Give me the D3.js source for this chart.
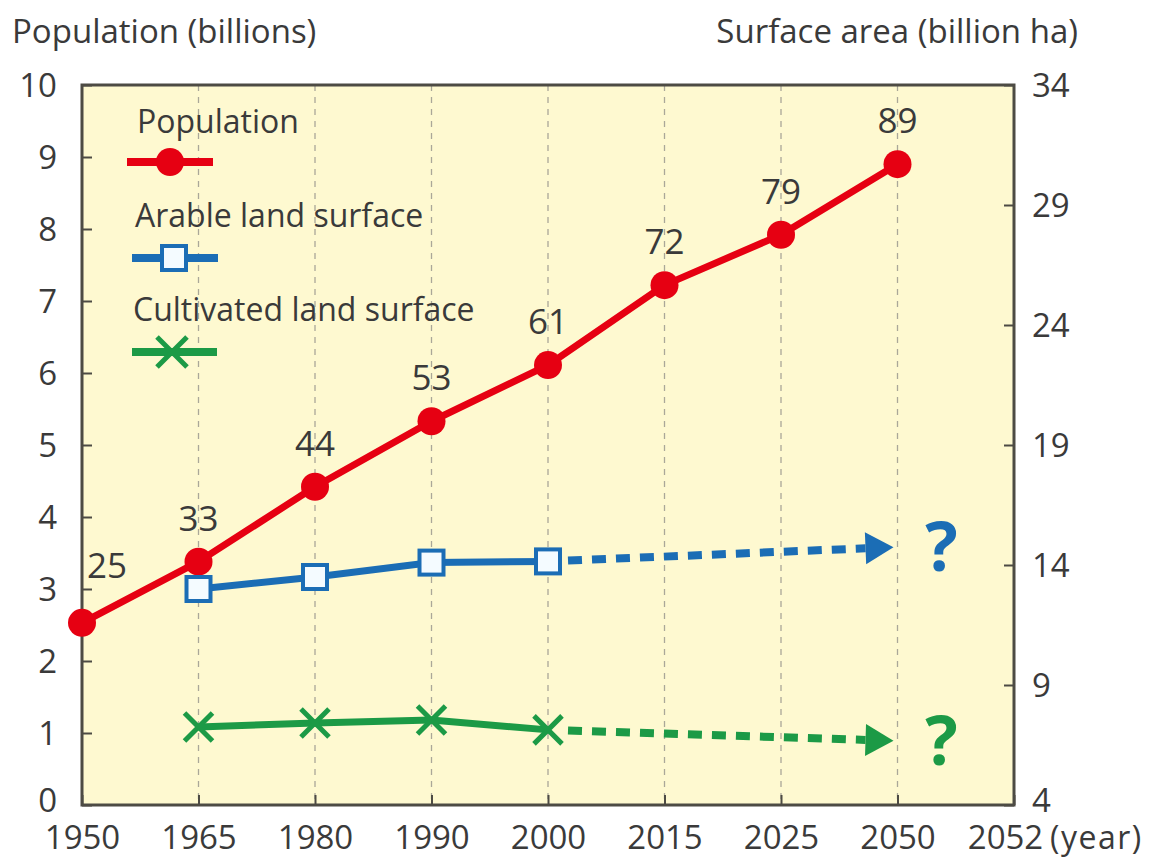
<!DOCTYPE html>
<html>
<head>
<meta charset="utf-8">
<script src="https://cdn.jsdelivr.net/npm/d3@7"></script>
<style>
  body { margin: 0; background: #ffffff; }
  svg text { font-family: "Open Sans", "Noto Sans", sans-serif; fill: #3a3a3a; }
</style>
</head>
<body>
<svg id="chart" width="1151" height="861"></svg>
<script>
// ---- data ----
const years = ["1950", "1965", "1980", "1990", "2000", "2015", "2025", "2050", "2052"];
const popYears = ["1950", "1965", "1980", "1990", "2000", "2015", "2025", "2050"];
const population = [2.53, 3.38, 4.42, 5.33, 6.11, 7.22, 7.92, 8.9];
const popLabels = ["25", "33", "44", "53", "61", "72", "79", "89"];
const landYears = ["1965", "1980", "1990", "2000"];
const arable = [13.0, 13.5, 14.1, 14.15];
const cultivated = [7.25, 7.42, 7.54, 7.13];
const projYears = ["2000", "2050"];
const arableProj = [14.15, 14.75];
const cultivatedProj = [7.13, 6.67];
const leftTicks = [0, 1, 2, 3, 4, 5, 6, 7, 8, 9, 10];
const rightTicks = [4, 9, 14, 19, 24, 29, 34];

const RED = "#e60012", BLUE = "#1b6db5", GREEN = "#1c9a46";
const AXIS = "#4d4b44";

const svg = d3.select("#chart");
const L = 82, R = 1014, T = 85, B = 805;

const x = d3.scalePoint().domain(years).range([L, R]);
const yL = d3.scaleLinear().domain([0, 10]).range([B, T]);
const yR = d3.scaleLinear().domain([4, 34]).range([B, T]);

// plot background
svg.append("rect").attr("x", L).attr("y", T).attr("width", R - L).attr("height", B - T)
  .attr("fill", "#fef9d0");

// vertical dashed gridlines
svg.append("g").selectAll("line").data(years.slice(1, -1)).join("line")
  .attr("x1", d => x(d)).attr("x2", d => x(d)).attr("y1", T).attr("y2", B)
  .attr("stroke", "#aaa798").attr("stroke-width", 1.3).attr("stroke-dasharray", "6,6");

// left axis
const gl = svg.append("g").attr("transform", `translate(${L},0)`)
  .call(d3.axisLeft(yL).tickValues(leftTicks).tickSizeInner(-10).tickSizeOuter(0).tickPadding(25).tickFormat(d3.format("d")));
gl.select(".domain").remove();
gl.selectAll(".tick line").attr("stroke", AXIS).attr("stroke-width", 2);
gl.selectAll(".tick text").attr("font-size", 33).attr("x", -25).attr("text-anchor", "end")
  .attr("dy", d => d === 0 ? "0.2em" : "0.36em");

// right axis
const gr = svg.append("g").attr("transform", `translate(${R},0)`)
  .call(d3.axisRight(yR).tickValues(rightTicks).tickSizeInner(-10).tickSizeOuter(0).tickPadding(18).tickFormat(d3.format("d")));
gr.select(".domain").remove();
gr.selectAll(".tick line").attr("stroke", AXIS).attr("stroke-width", 2);
gr.selectAll(".tick text").attr("font-size", 33).attr("x", 18)
  .attr("dy", d => d === 4 ? "0.2em" : "0.36em");

// bottom axis
const gb = svg.append("g").attr("transform", `translate(0,${B})`)
  .call(d3.axisBottom(x).tickSizeInner(-10).tickSizeOuter(0).tickPadding(10));
gb.select(".domain").remove();
gb.selectAll(".tick line").attr("stroke", AXIS).attr("stroke-width", 2);
gb.selectAll(".tick text").attr("font-size", 33)
  .attr("text-anchor", "middle").attr("x", d => d === "2052" ? -9 : 0).attr("y", 44).attr("dy", 0);

// frame
svg.append("rect").attr("x", L).attr("y", T).attr("width", R - L).attr("height", B - T)
  .attr("fill", "none").attr("stroke", AXIS).attr("stroke-width", 3);

// axis titles
svg.append("text").attr("x", 12).attr("y", 43).attr("font-size", 33).text("Population (billions)");
svg.append("text").attr("x", 1078).attr("y", 43).attr("font-size", 33).attr("text-anchor", "end").text("Surface area (billion ha)");
svg.append("text").attr("x", 1050).attr("y", 849).attr("font-size", 32).attr("letter-spacing", 1.5).text("(year)");

// projection arrows
function arrow(vals, color) {
  const p0 = [x(projYears[0]), yR(vals[0])];
  const p1 = [x(projYears[1]), yR(vals[1])];
  const ang = Math.atan2(p1[1] - p0[1], p1[0] - p0[0]);
  const tip = [p1[0] - 4 * Math.cos(ang), p1[1] - 4 * Math.sin(ang)];
  const headLen = 28, headW = 16;
  const base = [tip[0] - headLen * Math.cos(ang), tip[1] - headLen * Math.sin(ang)];
  const start = 20;
  svg.append("line").attr("x1", p0[0] + start).attr("y1", p0[1] + start * Math.tan(ang))
    .attr("x2", base[0]).attr("y2", base[1])
    .attr("stroke", color).attr("stroke-width", 8).attr("stroke-dasharray", "14,10");
  const nx = -Math.sin(ang), ny = Math.cos(ang);
  svg.append("path")
    .attr("d", `M${tip[0]},${tip[1]} L${base[0] + nx * headW},${base[1] + ny * headW} L${base[0] - nx * headW},${base[1] - ny * headW} Z`)
    .attr("fill", color);
  svg.append("text").attr("x", tip[0] + 48).attr("y", tip[1] + 24).attr("text-anchor", "middle")
    .attr("font-size", 68).attr("font-weight", "bold").style("fill", color).text("?");
}
arrow(arableProj, BLUE);
arrow(cultivatedProj, GREEN);

// population line
const popData = popYears.map((d, i) => ({ year: d, v: population[i], label: popLabels[i] }));
svg.append("path").datum(popData)
  .attr("d", d3.line().x(d => x(d.year)).y(d => yL(d.v)))
  .attr("fill", "none").attr("stroke", RED).attr("stroke-width", 7).attr("stroke-linejoin", "round");
svg.append("g").selectAll("circle").data(popData).join("circle")
  .attr("cx", d => x(d.year)).attr("cy", d => yL(d.v)).attr("r", 14).attr("fill", RED);
svg.append("g").selectAll("text").data(popData).join("text")
  .attr("x", (d, i) => i === 0 ? x(d.year) + 25 : x(d.year))
  .attr("y", (d, i) => i === 0 ? yL(d.v) - 45 : yL(d.v) - 31)
  .attr("text-anchor", "middle").attr("font-size", 35).text(d => d.label);

// arable line
const arData = landYears.map((d, i) => ({ year: d, v: arable[i] }));
svg.append("path").datum(arData)
  .attr("d", d3.line().x(d => x(d.year)).y(d => yR(d.v)))
  .attr("fill", "none").attr("stroke", BLUE).attr("stroke-width", 7);
svg.append("g").selectAll("rect").data(arData).join("rect")
  .attr("x", d => x(d.year) - 12).attr("y", d => yR(d.v) - 12).attr("width", 24).attr("height", 24)
  .attr("fill", "#f4fbff").attr("stroke", BLUE).attr("stroke-width", 4);

// cultivated line
const cuData = landYears.map((d, i) => ({ year: d, v: cultivated[i] }));
svg.append("path").datum(cuData)
  .attr("d", d3.line().x(d => x(d.year)).y(d => yR(d.v)))
  .attr("fill", "none").attr("stroke", GREEN).attr("stroke-width", 7);
const xs = 14;
svg.append("g").selectAll("path").data(cuData).join("path")
  .attr("d", d => `M${x(d.year) - xs},${yR(d.v) - xs}L${x(d.year) + xs},${yR(d.v) + xs}M${x(d.year) - xs},${yR(d.v) + xs}L${x(d.year) + xs},${yR(d.v) - xs}`)
  .attr("stroke", GREEN).attr("stroke-width", 5);

// legend
const lg = svg.append("g");
lg.append("text").attr("x", 137).attr("y", 133).attr("font-size", 32).text("Population");
lg.append("line").attr("x1", 127).attr("x2", 213).attr("y1", 162).attr("y2", 162).attr("stroke", RED).attr("stroke-width", 8);
lg.append("circle").attr("cx", 170).attr("cy", 162).attr("r", 14).attr("fill", RED);

lg.append("text").attr("x", 135).attr("y", 227).attr("font-size", 32).text("Arable land surface");
lg.append("line").attr("x1", 132).attr("x2", 218).attr("y1", 258).attr("y2", 258).attr("stroke", BLUE).attr("stroke-width", 8);
lg.append("rect").attr("x", 162).attr("y", 246).attr("width", 24).attr("height", 24)
  .attr("fill", "#f4fbff").attr("stroke", BLUE).attr("stroke-width", 4);

lg.append("text").attr("x", 133).attr("y", 321).attr("font-size", 32).text("Cultivated land surface");
lg.append("line").attr("x1", 132).attr("x2", 217).attr("y1", 352).attr("y2", 352).attr("stroke", GREEN).attr("stroke-width", 8);
const ls = 15;
lg.append("path").attr("d", `M${172 - ls},${352 - ls}L${172 + ls},${352 + ls}M${172 - ls},${352 + ls}L${172 + ls},${352 - ls}`)
  .attr("stroke", GREEN).attr("stroke-width", 5);
</script>
</body>
</html>
